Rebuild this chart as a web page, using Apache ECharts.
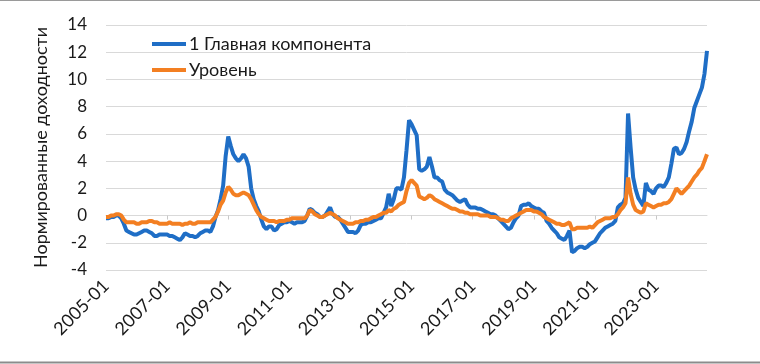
<!DOCTYPE html>
<html>
<head>
<meta charset="utf-8">
<script src="https://cdn.jsdelivr.net/npm/echarts@6/dist/echarts.min.js"></script>
<style>
  html, body { margin: 0; padding: 0; background: #fff; }
  #chart { width: 760px; height: 364px; }
</style>
</head>
<body>
<div id="chart"></div>
<script>
// monthly data, 2005-01 .. 2024-09
const startYear = 2005
const pc1 = [
  -0.2, -0.2, -0.1, -0.1, 0.0, 0.0, -0.2, -0.6, -1.1, -1.2, -1.3, -1.4, // 2005
  -1.4, -1.3, -1.2, -1.1, -1.1, -1.2, -1.3, -1.5, -1.5, -1.4, -1.4, -1.4, // 2006
  -1.4, -1.5, -1.5, -1.6, -1.7, -1.8, -1.6, -1.3, -1.4, -1.5, -1.5, -1.6, // 2007
  -1.5, -1.3, -1.2, -1.1, -1.1, -1.2, -0.8, -0.1, 0.4, 1.2, 2.2, 4.4, // 2008
  5.8, 5.1, 4.5, 4.2, 4.0, 4.2, 4.5, 4.2, 3.6, 2.0, 1.2, 0.7, // 2009
  0.3, -0.3, -0.8, -1.0, -0.8, -0.8, -1.1, -1.0, -0.7, -0.6, -0.5, -0.5, // 2010
  -0.4, -0.5, -0.6, -0.5, -0.5, -0.5, -0.4, 0.0, 0.5, 0.4, 0.2, 0.1, // 2011
  -0.1, -0.1, 0.0, 0.3, 0.6, 0.1, -0.1, -0.1, -0.3, -0.6, -0.9, -1.2, // 2012
  -1.2, -1.2, -1.3, -1.1, -0.7, -0.6, -0.6, -0.5, -0.5, -0.4, -0.3, -0.2, // 2013
  -0.2, 0.2, 0.6, 1.6, 0.7, 1.2, 2.0, 2.0, 1.9, 2.8, 4.8, 7.0, // 2014
  6.7, 6.3, 5.9, 3.4, 3.3, 3.4, 3.6, 4.3, 3.6, 2.8, 2.8, 2.6, // 2015
  2.5, 1.9, 1.7, 1.6, 1.5, 1.3, 1.1, 1.0, 1.1, 1.2, 0.8, 0.6, // 2016
  0.6, 0.6, 0.5, 0.5, 0.4, 0.3, 0.2, 0.1, 0.1, 0.0, -0.2, -0.4, // 2017
  -0.6, -0.8, -1.0, -0.9, -0.5, -0.2, 0.0, 0.7, 0.8, 0.8, 0.9, 0.7, // 2018
  0.6, 0.5, 0.5, 0.3, 0.2, -0.4, -0.6, -0.9, -1.1, -1.3, -1.6, -1.7, // 2019
  -1.8, -1.5, -1.1, -2.7, -2.6, -2.4, -2.3, -2.3, -2.4, -2.3, -2.1, -2.0, // 2020
  -1.9, -1.6, -1.3, -1.1, -0.9, -0.8, -0.7, -0.6, -0.4, 0.6, 0.8, 0.9, // 2021
  1.3, 7.5, 5.0, 2.8, 1.9, 1.3, 1.0, 0.7, 2.4, 1.9, 1.8, 1.6, // 2022
  2.0, 2.2, 2.2, 2.1, 2.4, 2.8, 3.8, 4.9, 5.0, 4.5, 4.6, 4.9, // 2023
  5.4, 6.2, 6.9, 7.9, 8.4, 8.9, 9.4, 10.4, 12.1 // 2024
]
const level = [
  -0.1, -0.1, 0.0, 0.0, 0.1, 0.1, 0.0, -0.3, -0.5, -0.5, -0.5, -0.5, // 2005
  -0.6, -0.6, -0.5, -0.5, -0.5, -0.4, -0.4, -0.5, -0.5, -0.6, -0.6, -0.6, // 2006
  -0.6, -0.5, -0.6, -0.6, -0.6, -0.6, -0.7, -0.6, -0.6, -0.5, -0.6, -0.6, // 2007
  -0.5, -0.5, -0.5, -0.5, -0.5, -0.5, -0.3, -0.1, 0.3, 0.8, 1.1, 1.7, // 2008
  2.1, 1.9, 1.6, 1.5, 1.5, 1.6, 1.7, 1.6, 1.5, 1.2, 0.8, 0.4, // 2009
  0.1, -0.1, -0.2, -0.3, -0.4, -0.4, -0.4, -0.5, -0.4, -0.4, -0.4, -0.3, // 2010
  -0.3, -0.2, -0.2, -0.2, -0.2, -0.2, -0.2, 0.0, 0.4, 0.3, 0.1, 0.0, // 2011
  -0.1, -0.1, 0.0, 0.1, 0.2, 0.1, 0.0, -0.2, -0.3, -0.4, -0.5, -0.6, // 2012
  -0.6, -0.6, -0.5, -0.5, -0.4, -0.4, -0.3, -0.3, -0.2, -0.1, -0.1, 0.0, // 2013
  0.1, 0.2, 0.2, 0.4, 0.3, 0.5, 0.6, 0.8, 0.9, 1.0, 1.8, 2.4, // 2014
  2.6, 2.4, 2.2, 1.4, 1.3, 1.2, 1.3, 1.5, 1.4, 1.2, 1.1, 1.0, // 2015
  0.9, 0.8, 0.7, 0.6, 0.5, 0.5, 0.4, 0.3, 0.3, 0.2, 0.2, 0.1, // 2016
  0.1, 0.1, 0.1, 0.0, 0.0, 0.0, 0.0, -0.1, -0.1, -0.1, -0.2, -0.3, // 2017
  -0.3, -0.4, -0.4, -0.2, -0.1, 0.0, 0.1, 0.2, 0.3, 0.4, 0.4, 0.4, // 2018
  0.3, 0.3, 0.2, 0.1, -0.1, -0.2, -0.3, -0.4, -0.5, -0.6, -0.6, -0.7, // 2019
  -0.7, -0.6, -0.5, -1.0, -1.0, -0.9, -0.9, -0.9, -0.9, -0.9, -0.8, -0.9, // 2020
  -0.7, -0.5, -0.4, -0.3, -0.2, -0.2, -0.2, -0.1, -0.1, 0.1, 0.4, 0.6, // 2021
  0.9, 2.8, 1.6, 0.8, 0.4, 0.3, 0.2, 0.3, 0.9, 0.8, 0.7, 0.6, // 2022
  0.7, 0.8, 0.8, 0.9, 0.9, 1.0, 1.2, 1.6, 2.0, 1.8, 1.6, 1.8, // 2023
  2.0, 2.2, 2.5, 2.8, 3.0, 3.3, 3.5, 4.0, 4.5 // 2024
]
const seriesNames = ['1 Главная компонента', 'Уровень']
const yTicks = { min: -4, max: 14, step: 2 }

const months = pc1.map((v, i) => {
  const y = startYear + Math.floor(i / 12)
  const m = (i % 12) + 1
  return y + '-' + (m < 10 ? '0' + m : m)
})

const font = 'Lato, "Open Sans", sans-serif'
const chart = echarts.init(document.getElementById('chart'))
const option = {
  animation: false,
  grid: { left: 106, right: 53, top: 25, bottom: 94 },
  legend: {
    orient: 'vertical',
    left: 147,
    top: 30,
    icon: 'rect',
    itemWidth: 34,
    itemHeight: 4,
    itemGap: 8,
    textStyle: { fontFamily: font, fontSize: 18, color: '#1a1a1a', padding: [0, 0, 0, -2] },
    data: seriesNames
  },
  xAxis: [
    {
      type: 'category',
      data: months,
      boundaryGap: false,
      axisLine: { show: false, onZero: false },
      axisTick: { show: false },
      axisLabel: {
        interval: 23,
        rotate: 45,
        margin: 13,
        fontFamily: font,
        fontSize: 18,
        color: '#1a1a1a'
      },
      splitLine: { show: false }
    },
    {
      type: 'category',
      data: months,
      boundaryGap: false,
      position: 'bottom',
      axisLine: { show: true, onZero: true, lineStyle: { color: '#d9d9d9' } },
      axisTick: { show: true, interval: 23, length: 4, lineStyle: { color: '#c8c8c8' } },
      axisLabel: { show: false }
    }
  ],
  yAxis: {
    type: 'value',
    min: yTicks.min,
    max: yTicks.max,
    interval: yTicks.step,
    name: 'Нормированные доходности',
    nameLocation: 'middle',
    nameGap: 56,
    nameTextStyle: { fontFamily: font, fontSize: 18, color: '#1a1a1a' },
    axisLine: { show: false },
    axisTick: { show: false },
    axisLabel: { margin: 19, fontFamily: font, fontSize: 17, color: '#1a1a1a' },
    splitLine: { lineStyle: { color: '#d9d9d9', width: 1 } }
  },
  series: [
    {
      name: seriesNames[0],
      type: 'line',
      data: pc1,
      symbol: 'none',
      lineStyle: { color: '#1f6ec6', width: 4 },
      itemStyle: { color: '#1f6ec6' }
    },
    {
      name: seriesNames[1],
      type: 'line',
      data: level,
      symbol: 'none',
      lineStyle: { color: '#f37f22', width: 4 },
      itemStyle: { color: '#f37f22' }
    }
  ],
  graphic: [
    { type: 'line', shape: { x1: 0, y1: 0.5, x2: 760, y2: 0.5 }, style: { stroke: '#9a9a9a', lineWidth: 1 } },
    { type: 'line', shape: { x1: 0, y1: 362.5, x2: 760, y2: 362.5 }, style: { stroke: '#8c8c8c', lineWidth: 2 } }
  ]
}
chart.setOption(option)
</script>
</body>
</html>
